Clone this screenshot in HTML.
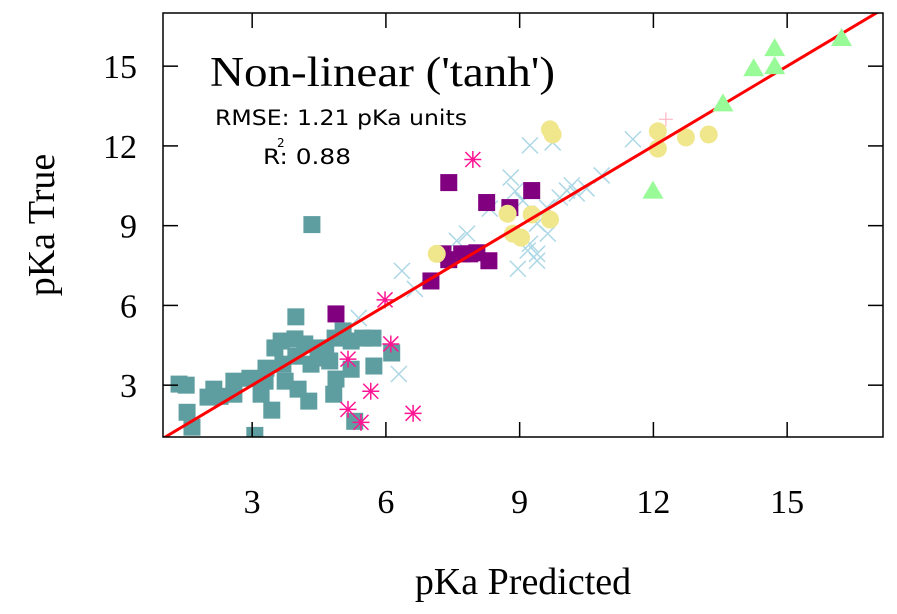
<!DOCTYPE html>
<html><head><meta charset="utf-8"><style>
html,body{margin:0;padding:0;background:#fff;}
svg{display:block;}
.serif{font-family:"Liberation Serif",serif;}
.sans{font-family:"DejaVu Sans","Liberation Sans",sans-serif;}
</style></head><body>
<svg id="chart" width="897" height="614" viewBox="0 0 897 614" xmlns="http://www.w3.org/2000/svg">
<g id="marks"></g>
<rect x="163" y="13" width="720" height="424" fill="none" stroke="#000" stroke-width="1.5"/>
<g id="axes"></g>
<text class="serif" x="210" y="86" font-size="42" textLength="345" lengthAdjust="spacingAndGlyphs">Non-linear ('tanh')</text>
<text class="sans" x="215" y="125" font-size="21" textLength="252" lengthAdjust="spacingAndGlyphs">RMSE: 1.21 pKa units</text>
<text class="sans" x="263" y="164" font-size="21" textLength="88" lengthAdjust="spacingAndGlyphs">R: 0.88</text>
<text class="sans" x="277" y="147" font-size="12">2</text>
<text class="serif" x="523" y="594" font-size="38" text-anchor="middle">pKa Predicted</text>
<text class="serif" x="0" y="0" font-size="38" text-anchor="middle" transform="translate(54,225) rotate(-90)">pKa True</text>
</svg>
<script>
const xTicks=[3,6,9,12,15];
const yTicks=[3,6,9,12,15];
const tealX=[1.36,1.52,1.54,1.65,2.01,2.14,2.28,2.59,2.59,2.95,3.06,3.20,3.29,3.31,3.44,3.51,3.65,3.69,3.74,3.98,3.96,3.98,4.03,4.18,4.27,4.34,4.32,4.48,4.48,4.65,4.74,4.83,4.88,5.04,4.86,5.22,5.22,5.30,5.48,5.71,5.73,6.13];
const tealY=[3.04,3.0,1.98,1.42,2.55,2.85,2.58,2.66,3.15,3.26,1.11,2.66,3.15,3.64,2.06,4.40,4.66,3.79,3.15,5.57,4.74,4.09,2.85,4.55,2.40,9.04,3.79,4.02,4.40,4.40,3.91,2.66,3.23,5.04,4.77,3.60,4.66,1.64,4.77,4.77,3.72,4.21];
const purpleX=[4.88,7.41,8.26,8.78,9.27,7.28,7.41,7.70,8.04,8.31,7.01,7.88];
const purpleY=[5.68,10.62,9.87,9.68,10.32,7.94,7.72,7.94,7.98,7.68,6.92,7.94];
const yellowX=[9.68,9.74,12.10,12.10,8.73,9.27,9.68,8.85,9.03,7.14,12.73,13.24];
const yellowY=[12.62,12.43,12.55,11.9,9.45,9.42,9.23,8.70,8.55,7.94,12.32,12.43];
const greenX=[11.99,13.56,14.25,14.72,14.72,16.22];
const greenY=[10.32,13.6,14.92,15.68,15.0,16.06];
const pinkX=[5.98,6.11,5.66,5.15,5.44,6.61,5.15,7.95];
const pinkY=[6.21,4.55,2.77,2.09,1.60,1.94,3.98,11.49];
const blueX=[9.23,9.74,11.54,8.8,10.84,10.17,10.06,10.28,9.9,9.61,9.07,8.33,9.5,9.39,9.63,7.82,7.59,9.23,9.39,9.18,9.39,8.96,6.36,6.65,5.39,6.29,8.9,10.5];
const blueY=[12.02,12.13,12.25,10.81,10.89,10.51,10.32,10.21,10.06,9.68,9.94,9.64,9.45,9.08,8.70,8.70,8.43,8.32,7.94,8.06,7.68,7.38,7.30,6.62,5.53,3.42,10.3,10.4];
const plusX=[12.28];
const plusY=[13.0];
const xMin=1,xMax=17.15,yMin=1.05,yMax=17.0;
const L=163,R=883,T=13,B=437;
function sx(v){return L+(v-xMin)/(xMax-xMin)*(R-L);}
function sy(v){return B-(v-yMin)/(yMax-yMin)*(B-T);}
const NS="http://www.w3.org/2000/svg";
const marks=document.getElementById('marks');
const axes=document.getElementById('axes');
function mk(tag,attrs,parent){const e=document.createElementNS(NS,tag);for(const k in attrs)e.setAttribute(k,attrs[k]);parent.appendChild(e);return e;}
const defs=mk('defs',{},marks);
const cp=mk('clipPath',{id:'clip'},defs);
mk('rect',{x:L,y:T,width:R-L,height:B-T},cp);
const g=mk('g',{'clip-path':'url(#clip)'},marks);
function cross(x,y,s,col,w,parent){
  return mk('path',{d:`M${x-s} ${y-s}L${x+s} ${y+s}M${x-s} ${y+s}L${x+s} ${y-s}`,stroke:col,'stroke-width':w,fill:'none'},parent);}
blueX.forEach((v,i)=>{const p=cross(sx(v),sy(blueY[i]),8,'#add8e6',1.5,g);

});
tealX.forEach((v,i)=>{const r=mk('rect',{x:sx(v)-8.5,y:sy(tealY[i])-8.5,width:17,height:17,fill:'#5f9ea0'},g);

});
purpleX.forEach((v,i)=>{const r=mk('rect',{x:sx(v)-8.5,y:sy(purpleY[i])-8.5,width:17,height:17,fill:'#800080'},g);

});
yellowX.forEach((v,i)=>{const c=mk('circle',{cx:sx(v),cy:sy(yellowY[i]),r:9,fill:'#f0e68c'},g);

});
pinkX.forEach((v,i)=>{const x=sx(v),y=sy(pinkY[i]),s=7.5;
const p=mk('path',{d:`M${x-s} ${y-s}L${x+s} ${y+s}M${x-s} ${y+s}L${x+s} ${y-s}M${x} ${y-s-1}L${x} ${y+s+1}M${x-s-1} ${y}L${x+s+1} ${y}`,stroke:'#ff1493','stroke-width':1.5,fill:'none'},g);

});
plusX.forEach((v,i)=>{const x=sx(v),y=sy(plusY[i]),s=7;
const p=mk('path',{d:`M${x} ${y-s}L${x} ${y+s}M${x-s} ${y}L${x+s} ${y}`,stroke:'#ffb6c1','stroke-width':1.2,fill:'none'},g);

});
const ln=mk('line',{x1:sx(xMin),y1:sy(xMin),x2:sx(xMax),y2:sy(xMax),stroke:'#ff0000','stroke-width':3},g);


greenX.forEach((v,i)=>{const x=sx(v),y=sy(greenY[i]);
const p=mk('polygon',{points:`${x},${y-10} ${x-10.5},${y+8} ${x+10.5},${y+8}`,fill:'#98fb98'},g);

});
xTicks.forEach(v=>{const x=sx(v);
mk('line',{x1:x,y1:B,x2:x,y2:B-15,stroke:'#000','stroke-width':1.5},axes);
mk('line',{x1:x,y1:T,x2:x,y2:T+15,stroke:'#000','stroke-width':1.5},axes);
const t=mk('text',{x:x,y:513,'font-size':34,'text-anchor':'middle',class:'serif'},axes);t.textContent=v;

});
yTicks.forEach(v=>{const y=sy(v);
mk('line',{x1:L,y1:y,x2:L+15,y2:y,stroke:'#000','stroke-width':1.5},axes);
mk('line',{x1:R,y1:y,x2:R-15,y2:y,stroke:'#000','stroke-width':1.5},axes);
const t=mk('text',{x:137,y:y+12,'font-size':34,'text-anchor':'end',class:'serif'},axes);t.textContent=v;

});
</script>
</body></html>
